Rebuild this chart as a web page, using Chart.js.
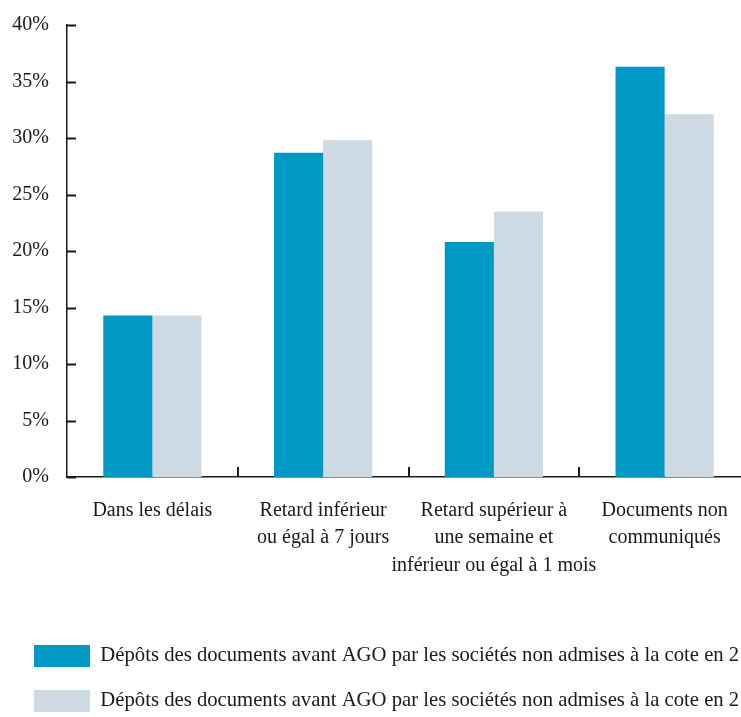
<!DOCTYPE html>
<html>
<head>
<meta charset="utf-8">
<script src="https://cdn.jsdelivr.net/npm/chart.js@4"></script>
<style>
  html, body { margin: 0; padding: 0; background: #ffffff; overflow: hidden; }
  #wrap { position: relative; width: 760px; height: 722px; }
</style>
</head>
<body>
<div id="wrap"><canvas id="c"></canvas></div>
<script>
const categories = [
  "Dans les délais",
  ["Retard inférieur", "ou égal à 7 jours"],
  ["Retard supérieur à", "une semaine et", "inférieur ou égal à 1 mois"],
  ["Documents non", "communiqués"]
];
const seriesLabels = [
  "Dépôts des documents avant AGO par les sociétés non admises à la cote en 2",
  "Dépôts des documents avant AGO par les sociétés non admises à la cote en 2"
];
const seriesA = [14.3, 28.7, 20.8, 36.3];
const seriesB = [14.3, 29.8, 23.5, 32.1];
const yTicks = [0, 5, 10, 15, 20, 25, 30, 35, 40];

const FONT = "'Liberation Serif', 'Times New Roman', serif";
const AXIS = '#1a1a1a';

const innerTicks = {
  id: 'innerTicks',
  afterDraw(chart) {
    const ctx = chart.ctx;
    const ca = chart.chartArea;
    const y = chart.scales.y, x = chart.scales.x;
    ctx.save();
    ctx.strokeStyle = AXIS;
    ctx.lineWidth = 2;
    ctx.beginPath();
    yTicks.forEach(v => {
      const py = Math.round(y.getPixelForValue(v)) + 0.5;
      ctx.moveTo(ca.left, py);
      ctx.lineTo(ca.left + 9, py);
    });
    for (let i = 1; i < categories.length; i++) {
      const px = Math.round((x.getPixelForTick(i - 1) + x.getPixelForTick(i)) / 2);
      ctx.moveTo(px, ca.bottom);
      ctx.lineTo(px, ca.bottom - 10);
    }
    ctx.stroke();
    ctx.restore();
  }
};

new Chart(document.getElementById('c'), {
  type: 'bar',
  data: {
    labels: categories,
    datasets: [
      { label: seriesLabels[0], data: seriesA, backgroundColor: '#0099c6', borderWidth: 0,
        categoryPercentage: 0.575, barPercentage: 1.0 },
      { label: seriesLabels[1], data: seriesB, backgroundColor: '#cdd9e3', borderWidth: 0,
        categoryPercentage: 0.575, barPercentage: 1.0 }
    ]
  },
  options: {
    responsive: true,
    maintainAspectRatio: false,
    animation: false,
    layout: { padding: { left: 11, right: 10, top: 25, bottom: 0 } },
    plugins: {
      tooltip: { enabled: false },
      legend: {
        position: 'bottom',
        align: 'start',
        labels: {
          boxWidth: 56,
          boxHeight: 22,
          padding: 23,
          color: '#1a1a1a',
          font: { family: FONT, size: 20.7 }
        }
      }
    },
    scales: {
      x: {
        grid: { display: false, drawTicks: false },
        border: { display: true, color: AXIS, width: 1.5 },
        ticks: {
          color: '#1a1a1a',
          font: { family: FONT, size: 20, lineHeight: 1.37 },
          padding: 20,
          maxRotation: 0,
          autoSkip: false
        },
        afterFit(scale) { scale.height = 145; }
      },
      y: {
        min: 0,
        max: 40,
        grid: { display: false, drawTicks: false },
        border: { display: true, color: AXIS, width: 1.5 },
        ticks: {
          stepSize: 5,
          color: '#1a1a1a',
          font: { family: FONT, size: 20 },
          padding: 18,
          callback: v => v + '%'
        },
        afterFit(scale) {
          scale.width = 56;
          scale.paddingTop = 0;
          scale.paddingBottom = 0;
        }
      }
    }
  },
  plugins: [innerTicks]
});
</script>
</body>
</html>
